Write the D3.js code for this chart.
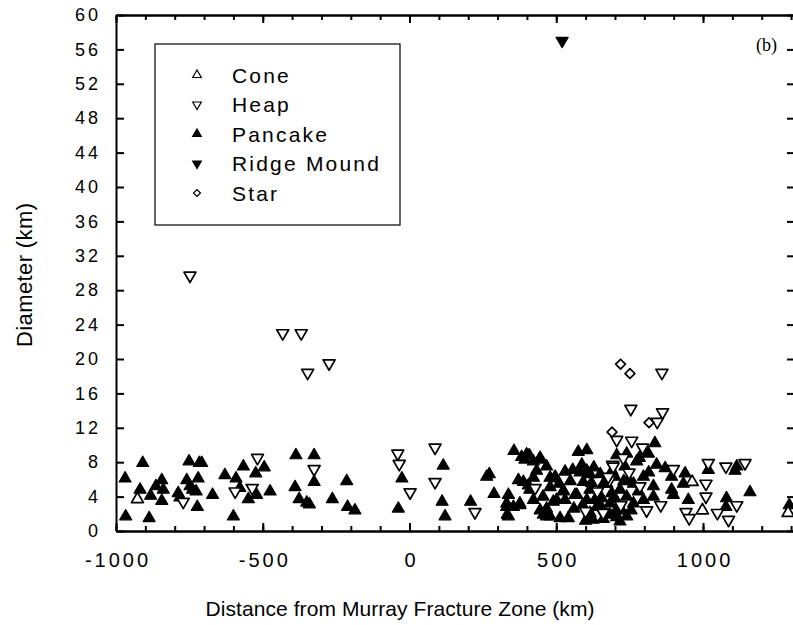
<!DOCTYPE html>
<html>
<head>
<meta charset="utf-8">
<script src="https://cdn.jsdelivr.net/npm/d3@7"></script>
<style>
	body { margin: 0; background: #fff; }
	svg { display: block; font-family: 'Liberation Sans', Arial, sans-serif; }
	.axis path, .axis line { stroke: #000; stroke-width: 2; }
	.axis text { fill: #000; }
</style>
</head>
<body>
<div id="chart"></div>
<script>
// NOTE data: [distance km, diameter km]
var cone = [[-927, 3.7], [998, 2.4], [1290, 2.1], [963, 5.7]];

var heap = [
	[-748, 29.7], [-432, 23.0], [-369, 23.0], [-347, 18.4], [-274, 19.5],
	[-518, 8.5], [-325, 7.2], [-771, 3.4], [-536, 5.0], [-594, 4.6],
	[-40, 9.0], [-35, 7.8], [2, 4.5], [87, 9.7], [87, 5.7], [223, 2.2],
	[428, 5.0], [681, 5.9], [692, 7.7], [658, 2.2], [706, 10.6],
	[860, 18.4], [754, 14.2], [862, 13.8], [844, 12.7], [757, 10.5],
	[794, 9.7], [728, 8.5], [694, 7.5], [899, 7.2], [1018, 7.9],
	[1078, 7.5], [1143, 7.9], [1010, 5.5], [1010, 4.0], [1115, 3.0],
	[1087, 1.3], [1049, 2.1], [856, 3.0], [808, 2.4], [660, 2.1],
	[942, 2.2], [953, 1.5], [677, 6.3], [785, 5.2], [640, 4.6],
	[748, 6.8], [720, 3.0], [600, 2.3]
];

var pancake = [
	[-969, 6.1], [-967, 1.7], [-909, 7.9], [-918, 4.8], [-887, 1.5],
	[-882, 4.1], [-864, 5.2], [-844, 5.9], [-839, 4.8], [-844, 3.5],
	[-788, 4.4], [-782, 3.9], [-751, 8.1], [-716, 7.9], [-708, 7.9],
	[-759, 5.9], [-748, 5.2], [-739, 4.8], [-720, 6.1], [-727, 4.6],
	[-723, 2.8], [-671, 4.2], [-629, 6.5], [-600, 1.7], [-591, 6.1],
	[-578, 5.0], [-566, 7.5], [-549, 3.7], [-524, 6.7], [-521, 4.2],
	[-495, 7.4], [-475, 4.6], [-387, 8.8], [-325, 8.8], [-325, 5.7],
	[-390, 5.1], [-376, 3.7], [-350, 3.3], [-341, 3.1], [-263, 3.7],
	[-214, 5.8], [-211, 2.8], [-186, 2.4], [-38, 2.6], [-26, 6.1],
	[115, 7.6], [111, 3.4], [121, 1.7],
	[208, 3.4], [272, 6.6], [263, 6.3], [288, 4.3], [356, 9.3],
	[337, 4.2], [331, 2.8], [333, 1.9], [354, 2.8], [376, 3.0],
	[393, 8.3], [408, 8.8], [422, 8.1], [442, 8.3], [467, 7.5],
	[433, 7.0], [422, 6.2], [371, 5.9], [388, 5.7], [410, 4.8],
	[422, 3.6], [479, 6.2], [499, 6.1], [479, 5.1], [524, 4.7],
	[501, 3.6], [467, 2.6], [456, 1.9], [479, 1.7], [513, 1.5],
	[541, 1.5], [530, 3.6], [570, 4.2], [530, 6.9], [556, 7.1],
	[581, 6.8], [604, 7.0], [575, 9.2], [604, 9.4], [587, 7.7],
	[592, 5.7], [615, 4.8], [604, 3.6], [615, 2.1], [638, 3.6],
	[638, 2.8], [666, 5.5], [683, 1.9], [704, 2.4],
	[331, 3.2], [337, 1.7], [376, 3.2], [382, 8.6], [399, 8.9],
	[445, 8.5], [405, 5.3], [445, 2.4], [467, 1.7], [496, 6.3],
	[490, 3.4], [524, 4.6], [564, 4.2], [615, 6.6], [638, 4.0],
	[615, 1.7], [455, 4.0], [510, 5.5], [548, 5.8], [560, 2.6],
	[590, 3.0], [620, 5.6], [628, 7.4], [650, 6.6], [600, 1.2],
	[625, 1.3], [650, 3.0], [660, 1.4],
	[836, 10.2], [814, 9.0], [783, 8.5], [842, 7.7], [871, 7.3],
	[893, 6.3], [939, 6.7], [933, 5.5], [893, 4.8], [899, 4.2],
	[950, 3.6], [1018, 7.1], [1109, 7.0], [1115, 7.5], [1160, 4.5],
	[1080, 3.8], [1078, 2.8], [1294, 3.0],
	[672, 5.5], [700, 6.3], [734, 7.5], [774, 8.1], [717, 4.8],
	[740, 4.0], [763, 3.2], [723, 2.4], [740, 1.7], [717, 1.1],
	[683, 3.2], [763, 5.5], [797, 6.3], [831, 5.2], [831, 4.0],
	[797, 3.6], [689, 4.4], [655, 3.8], [661, 5.5], [706, 8.8],
	[740, 9.0], [690, 7.0], [745, 6.0], [700, 3.8], [730, 5.8],
	[755, 2.4], [705, 1.6], [780, 4.6], [815, 6.8]
];

var ridgeMound = [[520, 57.0]];

var star = [[719, 19.4], [751, 18.3], [816, 12.6], [690, 11.5]];

var legendLabels = ['Cone', 'Heap', 'Pancake', 'Ridge Mound', 'Star'];
var yTicks = d3.range(0, 61, 4);
var xMajorTicks = [-1000, -500, 0, 500, 1000];
var xMinorTicks = d3.range(-1000, 1301, 100);

var margin = { top: 15, left: 116, right: -1, bottom: 94 };
var W = 793, H = 625;
var width = W - margin.left - margin.right,
	height = H - margin.top - margin.bottom;

var svg = d3
	.select('#chart')
	.append('svg')
	.attr('width', W)
	.attr('height', H);

var g = svg
	.append('g')
	.attr('transform', 'translate(' + margin.left + ', ' + margin.top + ')');

var x = d3.scaleLinear().domain([-1000, 1310]).range([0, width]);
var y = d3.scaleLinear().domain([0, 60]).range([height, 0]);

// axes: ticks point inward on all four sides
var yAxis = d3
	.axisLeft(y)
	.tickValues(yTicks)
	.tickSizeInner(-8)
	.tickSizeOuter(0)
	.tickPadding(15);

g.append('g')
	.attr('class', 'y axis')
	.call(yAxis)
	.call(function (s) {
		s.selectAll('text')
			.style('font-size', '18px')
			.style('letter-spacing', '3px');
	});

g.append('g')
	.attr('class', 'y axis right')
	.attr('transform', 'translate(' + width + ',0)')
	.call(d3.axisRight(y).tickValues(yTicks).tickSizeInner(-7).tickSizeOuter(0).tickFormat(''));

g.append('g')
	.attr('class', 'x axis minor')
	.attr('transform', 'translate(0,' + height + ')')
	.call(d3.axisBottom(x).tickValues(xMinorTicks).tickSizeInner(-5).tickSizeOuter(0).tickFormat(''));

g.append('g')
	.attr('class', 'x axis')
	.attr('transform', 'translate(0,' + height + ')')
	.call(
		d3
			.axisBottom(x)
			.tickValues(xMajorTicks)
			.tickSizeInner(-8)
			.tickSizeOuter(0)
			.tickPadding(22)
			.tickFormat(function (d) {
				return String(d);
			})
	)
	.call(function (s) {
		s.selectAll('text')
			.style('font-size', '20px')
			.style('letter-spacing', '3px')
			.attr('dx', '1.5px');
	});

g.append('g')
	.attr('class', 'x axis top minor')
	.call(d3.axisTop(x).tickValues(xMinorTicks).tickSizeInner(-5).tickSizeOuter(0).tickFormat(''));

g.append('g')
	.attr('class', 'x axis top')
	.call(d3.axisTop(x).tickValues(xMajorTicks).tickSizeInner(-8).tickSizeOuter(0).tickFormat(''));

// axis titles
svg
	.append('text')
	.attr('x', 400)
	.attr('y', 616)
	.attr('text-anchor', 'middle')
	.attr('textLength', 389)
	.attr('lengthAdjust', 'spacing')
	.style('font-size', '21px')
	.text('Distance from Murray Fracture Zone (km)');

svg
	.append('text')
	.attr('transform', 'translate(32,275) rotate(-90)')
	.attr('text-anchor', 'middle')
	.attr('textLength', 144)
	.attr('lengthAdjust', 'spacing')
	.style('font-size', '22px')
	.text('Diameter (km)');

svg
	.append('text')
	.attr('x', 756)
	.attr('y', 51)
	.style('font-family', "'Liberation Serif', 'DejaVu Serif', serif")
	.style('font-size', '18px')
	.text('(b)');

// markers
var triUp = d3.symbol().type(d3.symbolTriangle).size(62);
var triSmall = d3.symbol().type(d3.symbolTriangle).size(32);
var sq = d3.symbol().type(d3.symbolSquare).size(48);
var sqSmall = d3.symbol().type(d3.symbolSquare).size(24);

function drawSeries(data, path, fill, rot, cls) {
	g.append('g')
		.attr('class', cls)
		.selectAll('path')
		.data(data)
		.enter()
		.append('path')
		.attr('d', path)
		.attr('transform', function (d) {
			return 'translate(' + x(d[0]) + ',' + y(d[1]) + ') rotate(' + rot + ')';
		})
		.style('fill', fill)
		.style('stroke', '#000')
		.style('stroke-linejoin', 'round')
		.style('stroke-width', fill === '#000' ? 1.2 : 1.7);
}

drawSeries(pancake, triUp(), '#000', 0, 'pancake');
drawSeries(heap, triUp(), '#fff', 180, 'heap');
drawSeries(cone, triUp(), '#fff', 0, 'cone');
drawSeries(star, sq(), '#fff', 45, 'star');
drawSeries(ridgeMound, triUp(), '#000', 180, 'ridge');

// legend box
var legend = svg.append('g').attr('class', 'legend');
legend
	.append('rect')
	.attr('x', 155)
	.attr('y', 44)
	.attr('width', 245)
	.attr('height', 181)
	.style('fill', '#fff')
	.style('stroke', '#000')
	.style('stroke-width', 1.2);

var legendShapes = [
	{ d: triSmall(), fill: '#fff', rot: 0 },
	{ d: triSmall(), fill: '#fff', rot: 180 },
	{ d: triSmall(), fill: '#000', rot: 0 },
	{ d: triSmall(), fill: '#000', rot: 180 },
	{ d: sqSmall(), fill: '#fff', rot: 45 }
];

var row = legend
	.selectAll('g.row')
	.data(legendLabels)
	.enter()
	.append('g')
	.attr('class', 'row')
	.attr('transform', function (d, i) {
		return 'translate(0,' + (75 + i * 29.5) + ')';
	});

row
	.append('path')
	.attr('d', function (d, i) {
		return legendShapes[i].d;
	})
	.attr('transform', function (d, i) {
		return 'translate(197,0) rotate(' + legendShapes[i].rot + ')';
	})
	.style('fill', function (d, i) {
		return legendShapes[i].fill;
	})
	.style('stroke', '#000')
	.style('stroke-width', 1.2);

row
	.append('text')
	.attr('x', 232)
	.attr('dy', '0.36em')
	.style('font-size', '21px')
	.style('letter-spacing', '2.2px')
	.text(function (d) {
		return d;
	});
</script>
</body>
</html>
